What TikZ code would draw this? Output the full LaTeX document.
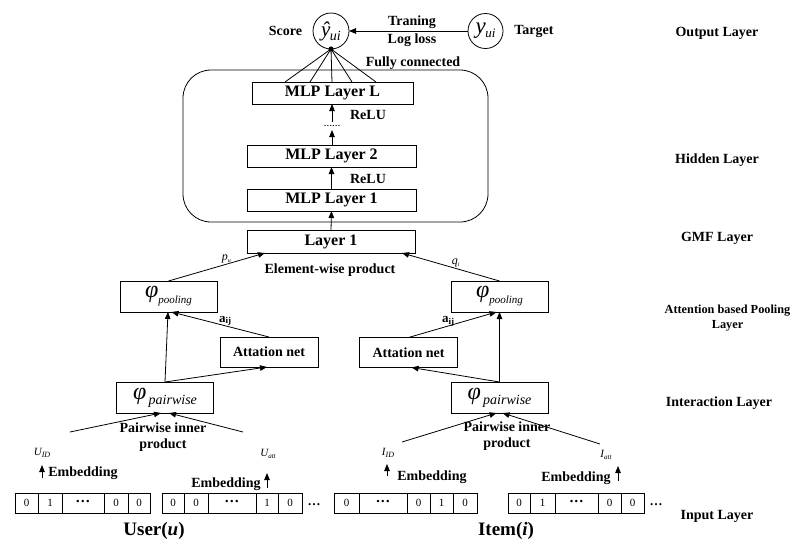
\documentclass[tikz,border=0pt]{standalone}
\usepackage{fontspec}
\setmainfont{Liberation Serif}
\usetikzlibrary{arrows.meta,calc}

\newcommand{\fs}[1]{\fontsize{#1}{#1}\selectfont}
\newcommand{\lowsub}[3]{\raisebox{-#1}{\fs{#2}#3}}

\begin{document}
\begin{tikzpicture}[x=1pt,y=-1pt,
  every node/.style={inner sep=0pt,outer sep=0pt},
  lbl/.style={font=\fs{14}\bfseries},
  layerlbl/.style={font=\fs{14}\bfseries,align=center},
  box/.style={draw,line width=0.8pt,font=\fs{16}\bfseries},
  phibox/.style={draw,line width=0.8pt,minimum width=97pt,minimum height=31pt},
  attbox/.style={draw,line width=0.8pt,minimum width=98pt,minimum height=30pt,font=\fs{14}\bfseries},
  cell/.style={draw,line width=0.8pt,minimum height=20pt,font=\fs{11}},
  arr/.style={-{Triangle[length=7pt,width=5.5pt]},line width=0.8pt},
  ln/.style={line width=0.8pt},
  small/.style={font=\fs{11}\itshape}]

\useasboundingbox (0,0) rectangle (792,544);

% ---------- output layer ----------
\node[circle,draw,line width=0.8pt,minimum size=36pt] (yhat) at (331,31)
  {\fs{21}\itshape ŷ\kern-0.5pt\lowsub{4pt}{14}{ui}};
\node[circle,draw,line width=0.8pt,minimum size=35pt] (ytrue) at (485.5,31)
  {\fs{23}\itshape y\kern-0.5pt\lowsub{4pt}{13}{ui}};
\node[lbl] (score) at (285.5,31) {Score};
\node[lbl] (target) at (534,31) {Target};
\draw[arr] (ytrue.west) -- (yhat.east);
\node[lbl] (train) at (412,22) {Traning};
\node[lbl] (logloss) at (412,40) {Log loss};
\node[lbl] (fully) at (413,63) {Fully connected};

% ---------- hidden layer ----------
\node[draw,line width=0.8pt,rounded corners=28pt,minimum width=305pt,minimum height=152pt] (hidden) at (335.5,146) {};
\node[box,minimum width=161pt,minimum height=22pt] (mlpL) at (332.5,93) {MLP Layer L};
\node[box,minimum width=169pt,minimum height=22pt] (mlp2) at (331.5,156) {MLP Layer 2};
\node[box,minimum width=169pt,minimum height=22pt] (mlp1) at (331.5,200) {MLP Layer 1};
\node[minimum width=24pt,minimum height=8pt,font=\fs{11}] (dots) at (332,126) {......};
\node[lbl] (relu1) at (368,115) {ReLU};
\node[lbl] (relu2) at (368,179) {ReLU};
\draw[arr] (dots.north) -- (mlpL.south -| dots.north);
\draw[arr] (mlp2.north -| dots.south) -- (dots.south);
\draw[arr] (mlp1.north) -- (mlp2.south);

% fully connected fan into the score
\coordinate (fan) at (yhat.south);
\fill (fan) circle (2.6pt);
\foreach \dx in {33,58,80,100,124}
  \draw[ln] (fan) -- ($(mlpL.north west)+(\dx,0)$);

% ---------- GMF layer ----------
\node[box,minimum width=168pt,minimum height=23pt] (layer1) at (331,241.5) {Layer 1};
\draw[arr] (layer1.north) -- (mlp1.south);
\node[lbl] (elem) at (330,270) {Element-wise product};

% ---------- pooling ----------
\node[phibox] (poolL) at (168.5,296.5)
  {\fs{24}\itshape φ\lowsub{6pt}{11}{pooling}};
\node[phibox] (poolR) at (499.5,296.5)
  {\fs{24}\itshape φ\lowsub{6pt}{11}{pooling}};
\draw[arr] (poolL.north) -- ($(layer1.south west)+(18,0)$)
  node[pos=0.6,above=1pt,font=\fs{12}\itshape] (pu) {p\lowsub{2pt}{6}{u}};
\draw[arr] (poolR.north) -- ($(layer1.south east)+(-13,0)$)
  node[pos=0.45,above=1pt,font=\fs{12}\itshape] (qi) {q\lowsub{2pt}{6}{i}};

\node[attbox] (attL) at (269,352) {Attation net};
\node[attbox] (attR) at (408.5,352.5) {Attation net};

% ---------- interaction ----------
\node[phibox] (pairL) at (165,397.5)
  {\fs{24}\itshape φ\lowsub{5pt}{14}{\,pairwise}};
\node[phibox] (pairR) at (499.5,397.5)
  {\fs{24}\itshape φ\lowsub{5pt}{14}{\,pairwise}};

\draw[arr] (pairL.north) -- ($(poolL.south)+(-0.5,0)$);
\draw[arr] (pairL.north) -- ($(attL.south)+(-2,0)$);
\draw[arr] (attL.north) -- ($(poolL.south)+(3,0)$)
  node[pos=0.45,above=0pt,font=\fs{13}\bfseries] (aijL) {a\lowsub{1.5pt}{9}{ij}};

\draw[arr] (pairR.north) -- (poolR.south);
\draw[arr] (pairR.north) -- ($(attR.south)+(3,0)$);
\draw[arr] (attR.north) -- ($(poolR.south)+(-3,0)$)
  node[pos=0.45,above=0pt,font=\fs{13}\bfseries] (aijR) {a\lowsub{1.5pt}{9}{ij}};

% pairwise inner product inputs
\coordinate (uin1) at (70,432);
\coordinate (uin2) at (243,432);
\coordinate (iin1) at (402,442);
\coordinate (iin2) at (600,444);
\draw[arr] (uin1) -- ($(pairL.south)+(-4,0)$);
\draw[arr] (uin2) -- ($(pairL.south)+(4,0)$);
\draw[arr] (iin1) -- ($(pairR.south)+(-3,0)$);
\draw[arr] (iin2) -- ($(pairR.south)+(3,0)$);
\node[lbl,align=center] (pipU) at (163,437) {Pairwise inner\\[2pt]product};
\node[lbl,align=center] (pipI) at (507,436) {Pairwise inner\\[2pt]product};

% ---------- embeddings ----------
\node[small] (uid) at (42,453) {U\lowsub{1.5pt}{8}{ID}};
\node[small] (uatt) at (268,454) {U\lowsub{1.5pt}{7}{att}};
\node[small] (iid) at (388,453) {I\lowsub{1.5pt}{8}{ID}};
\node[small] (iatt) at (606,455) {I\lowsub{1.5pt}{7}{att}};
\coordinate (euid) at (42,478);
\coordinate (euatt) at (267,488);
\coordinate (eiid) at (387,476);
\coordinate (eiatt) at (618,481);
\draw[arr] (euid) -- ++(0,-13);
\draw[arr] (euatt) -- ++(0,-15);
\draw[arr] (eiid) -- ++(0,-12);
\draw[arr] (eiatt) -- ++(0,-15);
\node[lbl] (embU1) at (83,473) {Embedding};
\node[lbl] (embU2) at (226,484) {Embedding};
\node[lbl] (embI1) at (432,477) {Embedding};
\node[lbl] (embI2) at (576,478) {Embedding};

% ---------- one-hot input vectors ----------
\newcommand{\celldots}{{\fs{15}\bfseries ···}}
\foreach \a/\b/\t [count=\i] in {15/38/0,38/62/1,62/104/\celldots,104/128/0,128/150/0}
  \node[cell,minimum width={(\b-\a)*1pt}] (ua\i) at ({(\a+\b)/2},503) {\t};
\foreach \a/\b/\t [count=\i] in {162/184/0,184/208/0,208/256/\celldots,256/278/1,278/302/0}
  \node[cell,minimum width={(\b-\a)*1pt}] (ub\i) at ({(\a+\b)/2},503) {\t};
\foreach \a/\b/\t [count=\i] in {334/359/0,359/407/\celldots,407/430/0,430/453/1,453/477/0}
  \node[cell,minimum width={(\b-\a)*1pt}] (ia\i) at ({(\a+\b)/2},503) {\t};
\foreach \a/\b/\t [count=\i] in {508/530/0,530/555/1,555/598/\celldots,598/621/0,621/644/0}
  \node[cell,minimum width={(\b-\a)*1pt}] (ib\i) at ({(\a+\b)/2},503) {\t};
\node[font=\fs{13}\bfseries] (umore) at (314,505) {…};
\node[font=\fs{13}\bfseries] (imore) at (656,505) {…};

\node[font=\fs{19}\bfseries] (user) at (154,531) {User(\textit{u})};
\node[font=\fs{19}\bfseries] (item) at (506,531) {Item(\textit{i})};

% ---------- layer names ----------
\node[layerlbl] (lout) at (717,33) {Output Layer};
\node[layerlbl] (lhid) at (717,160) {Hidden Layer};
\node[layerlbl] (lgmf) at (717,238) {GMF Layer};
\node[layerlbl,font=\fs{12.3}\bfseries] (lpool) at (727.5,318) {Attention based Pooling\\[3pt]Layer};
\node[layerlbl] (linter) at (719,403) {Interaction Layer};
\node[layerlbl] (lin) at (717,516) {Input Layer};

\end{tikzpicture}
\end{document}
